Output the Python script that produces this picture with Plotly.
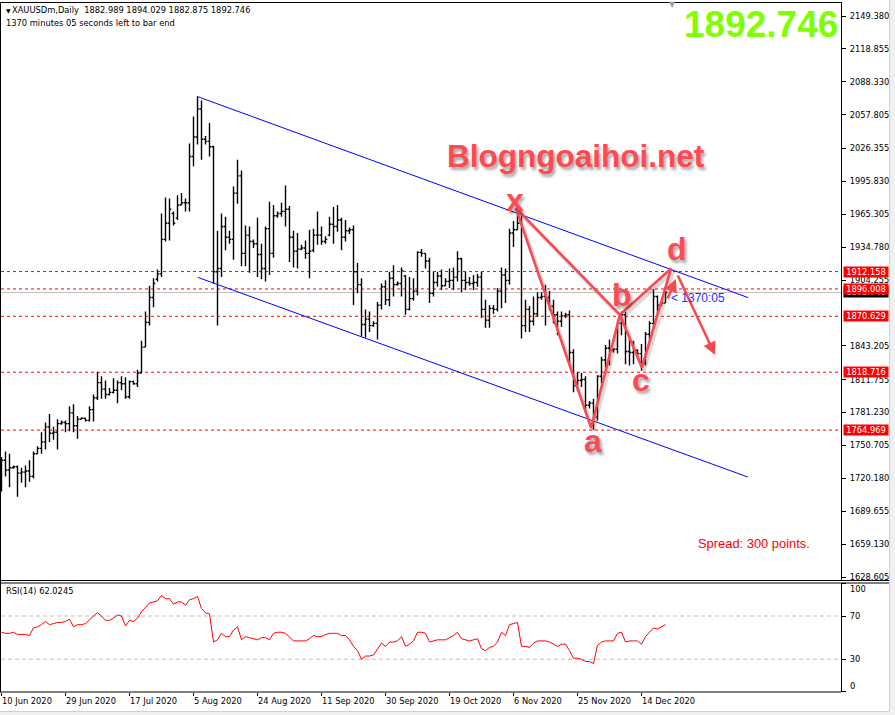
import plotly.graph_objects as go

# ---------------- data ----------------
DATE_TICKS = [0, 16, 32, 48, 64, 80, 96, 112, 128, 144, 160]
DATE_LABELS = ["10 Jun 2020", "29 Jun 2020", "17 Jul 2020", "5 Aug 2020", "24 Aug 2020",
               "11 Sep 2020", "30 Sep 2020", "19 Oct 2020", "6 Nov 2020", "25 Nov 2020",
               "14 Dec 2020"]

OPEN = [1715,1737,1728,1730,1731,1725,1726,1727,1722,1743,
        1748,1754,1768,1762,1763,1771,1772,1771,1781,1769,
        1775,1776,1774,1784,1795,1809,1803,1798,1800,1802,
        1809,1808,1796,1810,1808,1818,1842,1865,1888,1905,
        1910,1942,1957,1966,1962,1974,1976,1976,2019,2037,
        2063,2035,2033,2028,1912,1915,1954,1944,1942,1985,
        2001,1929,1946,1940,1938,1928,1915,1952,1929,1964,
        1966,1968,1970,1944,1931,1933,1934,1929,1932,1946,
        1946,1940,1946,1956,1954,1960,1944,1950,1951,1912,
        1900,1863,1868,1862,1864,1881,1898,1886,1906,1900,
        1901,1908,1877,1887,1894,1930,1929,1922,1892,1902,
        1908,1899,1903,1904,1907,1924,1904,1902,1901,1902,
        1907,1877,1867,1878,1877,1894,1909,1904,1948,1951,
        1957,1862,1877,1866,1873,1888,1889,1888,1880,1872,
        1866,1871,1872,1837,1806,1811,1812,1788,1790,1777,
        1815,1830,1841,1839,1840,1864,1872,1838,1837,1839,
        1836,1827,1854,1864,1889,1881,1882.989]
HIGH = [1740,1745,1743,1732,1732,1730,1732,1737,1745,1750,
        1763,1772,1780,1768,1775,1774,1774,1787,1789,1778,
        1777,1776,1787,1798,1819,1815,1811,1804,1813,1811,
        1815,1814,1811,1811,1821,1848,1875,1899,1906,1914,
        1966,1981,1980,1968,1983,1985,1980,2031,2056,2075,
        2071,2038,2050,2029,1950,1966,1963,1950,1991,2016,
        2006,1955,1954,1942,1962,1938,1954,1977,1974,1968,
        1976,1992,1973,1950,1948,1937,1941,1951,1952,1968,
        1954,1945,1963,1972,1974,1962,1960,1953,1955,1920,
        1906,1877,1875,1866,1884,1901,1904,1912,1918,1903,
        1916,1909,1907,1906,1931,1933,1929,1925,1912,1912,
        1914,1906,1915,1916,1931,1925,1912,1907,1909,1910,
        1912,1886,1881,1881,1897,1916,1915,1952,1959,1968,
        1966,1886,1880,1889,1893,1893,1900,1894,1886,1875,
        1875,1874,1876,1840,1819,1818,1815,1792,1794,1816,
        1833,1844,1849,1841,1866,1875,1875,1850,1848,1840,
        1845,1856,1866,1896,1890,1884,1894.029]
LOW = [1708,1722,1712,1729,1703,1716,1712,1717,1720,1743,
       1743,1747,1754,1756,1747,1770,1763,1764,1763,1757,
       1775,1773,1773,1773,1793,1794,1794,1797,1799,1790,
       1802,1794,1794,1807,1805,1818,1842,1862,1879,1903,
       1907,1940,1941,1955,1960,1974,1968,1968,2010,2030,
       2016,2030,2019,1901,1862,1907,1932,1938,1923,1975,
       1917,1917,1911,1934,1907,1905,1903,1909,1925,1962,
       1963,1954,1921,1916,1915,1932,1924,1906,1930,1937,
       1937,1938,1945,1938,1949,1932,1940,1947,1881,1892,
       1852,1851,1856,1861,1849,1877,1881,1880,1889,1899,
       1889,1872,1876,1885,1890,1926,1915,1883,1889,1898,
       1895,1899,1897,1895,1903,1893,1895,1899,1895,1898,
       1869,1860,1860,1873,1875,1878,1883,1900,1935,1951,
       1850,1856,1856,1862,1870,1886,1862,1876,1864,1853,
       1861,1869,1826,1800,1801,1805,1781,1785,1765,1774,
       1808,1822,1825,1837,1836,1853,1826,1825,1826,1835,
       1820,1825,1848,1859,1873,1880,1882.875]
CLOSE = [1737,1728,1730,1731,1725,1726,1727,1722,1743,1748,
         1754,1768,1762,1763,1771,1772,1771,1781,1769,1775,
         1776,1774,1784,1795,1809,1803,1798,1800,1802,1809,
         1808,1796,1810,1808,1818,1842,1865,1888,1901,1910,
         1942,1957,1970,1957,1974,1976,1976,2019,2037,2063,
         2035,2033,2028,1912,1915,1954,1944,1942,1985,2001,
         1929,1946,1940,1938,1928,1915,1952,1929,1964,1966,
         1968,1970,1944,1931,1933,1934,1929,1931,1946,1946,
         1940,1942,1956,1954,1960,1944,1950,1951,1912,1900,
         1863,1868,1862,1864,1881,1898,1886,1906,1900,1901,
         1913,1877,1887,1894,1930,1929,1922,1892,1902,1908,
         1899,1903,1904,1907,1924,1904,1902,1901,1902,1907,
         1877,1867,1878,1877,1894,1909,1904,1948,1951,1957,
         1862,1877,1866,1873,1888,1889,1888,1880,1872,1866,
         1871,1872,1837,1806,1811,1812,1788,1790,1777,1815,
         1830,1841,1839,1840,1864,1872,1838,1837,1839,1836,
         1827,1854,1864,1889,1881,1883,1892.746]
RSI = [55,54,54,55,53,53,53,52,59,60,
       62,65,62,63,64,64,65,67,60,62,
       62,63,67,70,73,70,66,66,68,71,
       70,61,66,65,68,74,78,82,83,84,
       89,86,86,81,83,83,80,85,86,88,
       77,73,72,46,48,54,51,51,57,60,
       48,51,50,49,48,50,50,48,54,55,
       55,54,50,47,47,47,47,49,52,51,
       51,53,54,54,54,52,52,48,42,38,
       30,33,33,34,40,45,42,46,46,47,
       51,42,44,47,55,55,54,46,47,48,
       48,48,50,52,55,49,48,47,48,49,
       40,38,41,42,46,55,52,62,63,64,
       42,42,41,45,47,47,47,46,44,42,
       44,44,38,31,31,30,28,28,26,43,
       46,47,47,47,54,55,46,47,47,47,
       44,51,55,59,58,60,62.0245]

PRICE_TICKS = [2149.380, 2118.855, 2088.330, 2057.805, 2026.355, 1995.830, 1965.305,
               1934.780, 1904.255, 1843.205, 1811.755, 1781.230, 1750.705, 1720.180,
               1689.655, 1659.130, 1628.605]
RSI_TICKS = [100, 70, 30, 0]
RSI_LEVELS = [70, 30]
LEVELS = [1912.158, 1896.008, 1870.629, 1818.716, 1764.969]
LAST_PRICE = 1892.746

CHANNEL_UPPER_X = [49.05, 186.7]
CHANNEL_UPPER_Y = [2074.5, 1887.9]
CHANNEL_LOWER_X = [49.05, 186.6]
CHANNEL_LOWER_Y = [1906.8, 1721.4]

# X-A-B-C-D pattern drawn as one path: X->A->B->C->D->B->X
PATTERN_X = [128.6, 147.4, 154.6, 160.1, 167.4, 154.6, 128.6]
PATTERN_Y = [1971.0, 1767.0, 1872.0, 1823.0, 1915.0, 1872.0, 1971.0]
PIVOT_TEXT = ["x", "a", "b", "c", "d"]
PIVOT_TEXT_X = [128.4, 147.8, 155.0, 159.9, 168.8]
PIVOT_TEXT_Y = [1978.6, 1754.9, 1890.4, 1811.5, 1933.1]
ARROW_TAIL_X = [168.9, 166.4]
ARROW_TAIL_Y = [1909.9, 1885.7]
ARROW_HEAD_X = [178.4, 168.6]
ARROW_HEAD_Y = [1834.7, 1905.3]

HEADER_1 = "XAUUSDm,Daily\u00a0\u00a01882.989 1894.029 1882.875 1892.746"
HEADER_2 = "1370 minutes 05 seconds left to bar end"
RSI_TITLE = "RSI(14) 62.0245"
BIG_PRICE = "1892.746"
SITE = "Blogngoaihoi.net"
COUNTDOWN = "< 1370:05"
SPREAD = "Spread: 300 points."

# ---------------- layout geometry ----------------
W, H = 895, 715
ML, MR, MT, MB = 1, 54, 2, 23
PW, PH = W - ML - MR, H - MT - MB


def px(x):
    return (x - ML) / PW


def py(y):
    return (H - MB - y) / PH


RED = "#FF0000"
PAT = "#F64B50"
SMALL = dict(family="DejaVu Sans", size=8.3, color="black")

fig = go.Figure()

fig.add_trace(go.Ohlc(
    x=list(range(len(OPEN))), open=OPEN, high=HIGH, low=LOW, close=CLOSE,
    increasing=dict(line=dict(color="black", width=1.4)),
    decreasing=dict(line=dict(color="black", width=1.4)),
    tickwidth=0.45, hoverinfo="skip", xaxis="x", yaxis="y", showlegend=False))

# channel
for cx, cy in ((CHANNEL_UPPER_X, CHANNEL_UPPER_Y), (CHANNEL_LOWER_X, CHANNEL_LOWER_Y)):
    fig.add_trace(go.Scatter(x=cx, y=cy, mode="lines", line=dict(color="#0000FF", width=1),
                             hoverinfo="skip", showlegend=False, xaxis="x", yaxis="y"))

# pattern shadow + pattern
fig.add_trace(go.Scatter(x=[v + 0.5 for v in PATTERN_X], y=[v - 2.6 for v in PATTERN_Y],
                         mode="lines", line=dict(color="rgba(150,90,90,0.25)", width=4),
                         hoverinfo="skip", showlegend=False, xaxis="x", yaxis="y"))
fig.add_trace(go.Scatter(x=PATTERN_X, y=PATTERN_Y, mode="lines",
                         line=dict(color=PAT, width=2.6),
                         hoverinfo="skip", showlegend=False, xaxis="x", yaxis="y"))

# RSI
fig.add_trace(go.Scatter(x=list(range(len(RSI))), y=RSI, mode="lines",
                         line=dict(color="#FF0000", width=1), hoverinfo="skip",
                         showlegend=False, xaxis="x2", yaxis="y2"))

main_dom = [py(580), 1.0]
rsi_dom = [0.0, py(583)]
xr = [-0.125, 209.875]

fig.update_layout(
    template="none",
    width=W, height=H, margin=dict(l=ML, r=MR, t=MT, b=MB, autoexpand=False),
    paper_bgcolor="white", plot_bgcolor="white", showlegend=False,
    xaxis=dict(domain=[0, 1], range=xr, anchor="y", showticklabels=False, showgrid=False,
               zeroline=False, rangeslider=dict(visible=False), fixedrange=True, ticks="",
               automargin=False, showline=False),
    xaxis2=dict(domain=[0, 1], range=xr, anchor="y2", showgrid=False, zeroline=False,
                tickvals=DATE_TICKS, ticktext=DATE_LABELS, ticks="outside", ticklen=3,
                tickcolor="black", ticklabelposition="outside right", ticklabelstandoff=1,
                tickfont=SMALL, fixedrange=True, automargin=False, showline=False),
    yaxis=dict(domain=main_dom, range=[1625.82, 2162.38], side="right", anchor="x",
               tickvals=PRICE_TICKS, ticktext=["%.3f" % v for v in PRICE_TICKS],
               ticks="outside", ticklen=4, tickcolor="black", showline=True,
               linecolor="black", linewidth=1, showgrid=False, zeroline=False,
               tickfont=SMALL, fixedrange=True, automargin=False, ticklabelstandoff=2),
    yaxis2=dict(domain=rsi_dom, range=[-0.2, 100.5], side="right", anchor="x2",
                tickvals=RSI_TICKS, ticktext=["", "70", "30", ""],
                ticks="outside", ticklen=4, tickcolor="black", showline=True,
                linecolor="black", linewidth=1, showgrid=False, zeroline=False,
                tickfont=SMALL, fixedrange=True, automargin=False, ticklabelstandoff=2),
)

shapes = []
# window frame (right / bottom)
shapes.append(dict(type="rect", xref="paper", yref="paper", x0=px(889), x1=px(897),
                   y0=py(717), y1=py(-2), fillcolor="#F0F0F0", line=dict(width=0), layer="below"))
shapes.append(dict(type="rect", xref="paper", yref="paper", x0=px(-2), x1=px(897),
                   y0=py(717), y1=py(711), fillcolor="#F0F0F0", line=dict(width=0), layer="below"))
shapes.append(dict(type="line", xref="paper", yref="paper", x0=px(889.5), x1=px(889.5),
                   y0=py(711), y1=py(0), line=dict(color="#D0D0D0", width=1)))
shapes.append(dict(type="line", xref="paper", yref="paper", x0=px(0), x1=px(889.5),
                   y0=py(711.5), y1=py(711.5), line=dict(color="#D0D0D0", width=1)))
# panel frames
shapes.append(dict(type="line", xref="paper", yref="paper", x0=px(0.5), x1=px(841),
                   y0=py(2.5), y1=py(2.5), line=dict(color="black", width=1)))
shapes.append(dict(type="line", xref="paper", yref="paper", x0=px(0.5), x1=px(0.5),
                   y0=py(692), y1=py(2.5), line=dict(color="black", width=1)))
shapes.append(dict(type="line", xref="paper", yref="paper", x0=px(0), x1=px(889),
                   y0=py(580.5), y1=py(580.5), line=dict(color="black", width=1)))
shapes.append(dict(type="line", xref="paper", yref="paper", x0=px(0), x1=px(889),
                   y0=py(583), y1=py(583), line=dict(color="black", width=1)))
shapes.append(dict(type="line", xref="paper", yref="paper", x0=px(0), x1=px(841),
                   y0=py(692), y1=py(692), line=dict(color="black", width=1)))
# current price line
shapes.append(dict(type="line", xref="paper", yref="y", x0=0, x1=1, y0=LAST_PRICE,
                   y1=LAST_PRICE, line=dict(color="#C0C0C0", width=1), layer="below"))
# level lines
for lv in LEVELS:
    shapes.append(dict(type="line", xref="paper", yref="y", x0=0, x1=1, y0=lv, y1=lv,
                       line=dict(color=RED, width=1, dash="3px,3px"), layer="below"))
# RSI levels
for lv in RSI_LEVELS:
    shapes.append(dict(type="line", xref="paper", yref="y2", x0=0, x1=1, y0=lv, y1=lv,
                       line=dict(color="#C0C0C0", width=1, dash="4px,3px"), layer="below"))
fig.update_layout(shapes=shapes)

ann = []
# header
ann.append(dict(xref="paper", yref="paper", x=px(3.5), y=py(10), text="\u25bc", showarrow=False,
                xanchor="left", yanchor="middle", font=dict(family="DejaVu Sans", size=6, color="black")))
ann.append(dict(xref="paper", yref="paper", x=px(10), y=py(10), text=HEADER_1, showarrow=False,
                xanchor="left", yanchor="middle", font=SMALL))
ann.append(dict(xref="paper", yref="paper", x=px(3.5), y=py(23), text=HEADER_2, showarrow=False,
                xanchor="left", yanchor="middle", font=SMALL))
ann.append(dict(xref="paper", yref="paper", x=px(3.5), y=py(591), text=RSI_TITLE, showarrow=False,
                xanchor="left", yanchor="middle", font=SMALL))
ann.append(dict(xref="paper", yref="paper", x=px(672), y=py(5), text="\u25bc", showarrow=False,
                xanchor="center", yanchor="middle", font=dict(family="DejaVu Sans", size=8, color="#A0A0A0")))
# RSI 100 / 0 labels (MT4 pulls them inside the panel)
ann.append(dict(xref="paper", yref="paper", x=px(848), y=py(589), text=str(RSI_TICKS[0]),
                showarrow=False, xanchor="left", yanchor="middle", font=SMALL))
ann.append(dict(xref="paper", yref="paper", x=px(848), y=py(686), text=str(RSI_TICKS[-1]),
                showarrow=False, xanchor="left", yanchor="middle", font=SMALL))
# big price
ann.append(dict(xref="paper", yref="paper", x=px(840), y=py(25), text="<b>%s</b>" % BIG_PRICE,
                showarrow=False, xanchor="right", yanchor="middle",
                font=dict(family="Liberation Sans", size=37, color="#7FFF00")))
# site text
ann.append(dict(xref="paper", yref="paper", x=px(576), y=py(156), text="<b>%s</b>" % SITE,
                showarrow=False, xanchor="center", yanchor="middle",
                font=dict(family="Liberation Sans", size=31.5, color="#FF4A52",
                          shadow="2px 3px 3px rgba(0,0,0,0.35)")))
# pivot letters
for t, x, y in zip(PIVOT_TEXT, PIVOT_TEXT_X, PIVOT_TEXT_Y):
    ann.append(dict(xref="x", yref="y", x=x, y=y, text="<b>%s</b>" % t, showarrow=False,
                    xanchor="center", yanchor="middle",
                    font=dict(family="Liberation Sans", size=32, color="#FF4A52",
                              shadow="2px 3px 3px rgba(0,0,0,0.35)")))
# arrows
for tx, ty, hx, hy in zip(ARROW_TAIL_X, ARROW_TAIL_Y, ARROW_HEAD_X, ARROW_HEAD_Y):
    ann.append(dict(xref="x", yref="y", axref="x", ayref="y", x=hx, y=hy, ax=tx, ay=ty, text="",
                    showarrow=True, arrowhead=2, arrowsize=1, arrowwidth=2.6, arrowcolor=PAT))
# countdown
ann.append(dict(xref="paper", yref="y", x=px(669), y=LAST_PRICE, text=COUNTDOWN, showarrow=False,
                xanchor="left", yanchor="middle", yshift=-6,
                font=dict(family="Liberation Sans", size=12, color="#2030FF")))
# spread
ann.append(dict(xref="paper", yref="paper", x=px(812), y=py(543), text=SPREAD, showarrow=False,
                xanchor="right", yanchor="middle",
                font=dict(family="Liberation Sans", size=12.9, color=RED)))
# price labels on axis
ann.append(dict(xref="paper", yref="y", x=1, y=LAST_PRICE, text="%.3f" % LAST_PRICE, showarrow=False,
                xanchor="left", yanchor="middle", xshift=2, bgcolor="black", width=44, height=10,
                borderpad=0, font=dict(family="DejaVu Sans", size=8.3, color="white")))
for lv in LEVELS:
    ann.append(dict(xref="paper", yref="y", x=1, y=lv, text="%.3f" % lv, showarrow=False,
                    xanchor="left", yanchor="middle", xshift=2, bgcolor=RED, width=44, height=10,
                    borderpad=0, font=dict(family="DejaVu Sans", size=8.3, color="white")))
fig.update_layout(annotations=ann)

fig.write_html("out.html", config={"displayModeBar": False, "staticPlot": True},
               post_script="document.body.style.margin='0';document.body.style.padding='0';")
